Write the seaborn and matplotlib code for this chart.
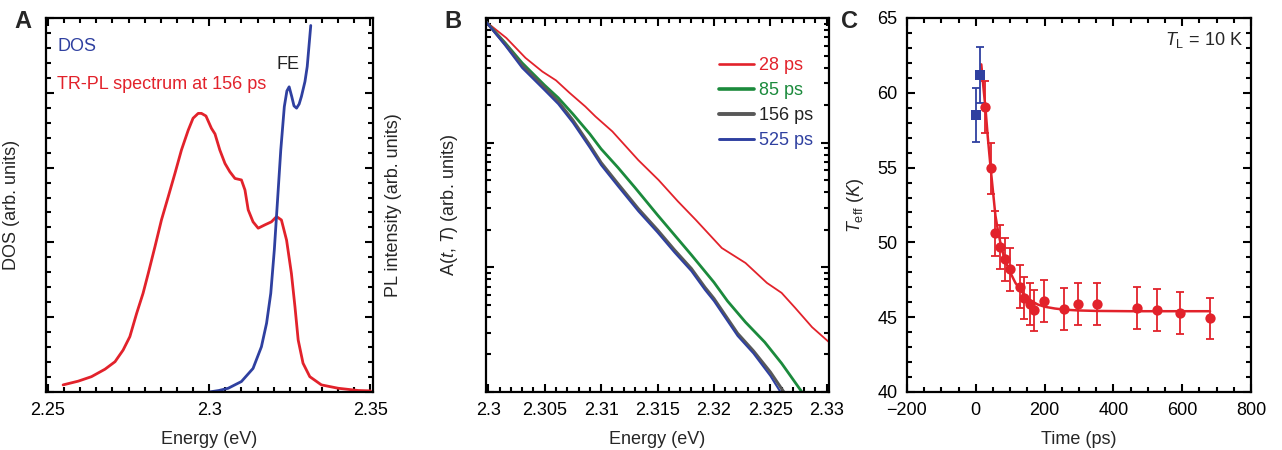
import numpy as np
import pandas as pd
import matplotlib
matplotlib.use("Agg")
import matplotlib.pyplot as plt
from matplotlib.ticker import MultipleLocator, LogLocator, NullFormatter
from matplotlib.lines import Line2D
import seaborn as sns

# ---------------- data ----------------
# Panel A: TR-PL spectrum at 156 ps and DOS
pl_energy = [2.2547, 2.2594, 2.2635, 2.2677, 2.2708, 2.2733, 2.2754, 2.2775, 2.2795,
             2.2811, 2.2832, 2.2852, 2.2873, 2.2894, 2.2914, 2.2935, 2.2950, 2.2966,
             2.2976, 2.2990, 2.3007, 2.3018, 2.3033, 2.3049, 2.3064, 2.3080, 2.3100,
             2.3111, 2.3121, 2.3136, 2.3152, 2.3173, 2.3193, 2.3209, 2.3224, 2.3240,
             2.3255, 2.3266, 2.3276, 2.3291, 2.3312, 2.3348, 2.3400, 2.3462, 2.3500]
pl_intensity = [0.019, 0.029, 0.041, 0.061, 0.081, 0.112, 0.148, 0.210, 0.264,
                0.317, 0.389, 0.460, 0.522, 0.585, 0.647, 0.700, 0.732, 0.745,
                0.745, 0.738, 0.705, 0.690, 0.647, 0.611, 0.589, 0.571, 0.567,
                0.540, 0.487, 0.455, 0.438, 0.447, 0.455, 0.469, 0.460, 0.406,
                0.317, 0.228, 0.139, 0.077, 0.041, 0.019, 0.010, 0.004, 0.003]
dos_energy = [2.3000, 2.3030, 2.3059, 2.3100, 2.3136, 2.3162, 2.3178, 2.3191, 2.3202,
              2.3212, 2.3222, 2.3233, 2.3241, 2.3248, 2.3256, 2.3263, 2.3271, 2.3279,
              2.3286, 2.3297, 2.3304, 2.3315]
dos_value = [0.000, 0.004, 0.010, 0.028, 0.063, 0.121, 0.184, 0.264, 0.380,
             0.513, 0.647, 0.763, 0.805, 0.816, 0.790, 0.765, 0.759, 0.770,
             0.790, 0.830, 0.870, 0.980]

# Panel B: A(t,T) on a log scale (log10 values)
b_energy_28 = [2.2998, 2.3016, 2.3033, 2.3048, 2.3060, 2.3072, 2.3086, 2.3095, 2.3110,
               2.3119, 2.3133, 2.3151, 2.3168, 2.3184, 2.3207, 2.3228, 2.3247, 2.3260,
               2.3272, 2.3287, 2.3302]
b_log_28 = [2.97, 2.84, 2.68, 2.57, 2.50, 2.40, 2.29, 2.21, 2.09,
            2.00, 1.86, 1.70, 1.53, 1.38, 1.155, 1.035, 0.875, 0.795,
            0.675, 0.52, 0.40]
b_energy_85 = [2.2998, 2.3015, 2.3030, 2.3050, 2.3062, 2.3075, 2.3090, 2.3100, 2.3115,
               2.3130, 2.3150, 2.3165, 2.3180, 2.3200, 2.3212, 2.3228, 2.3245, 2.3260,
               2.3278]
b_log_85 = [2.97, 2.80, 2.64, 2.46, 2.36, 2.23, 2.07, 1.95, 1.80,
            1.64, 1.42, 1.26, 1.10, 0.88, 0.73, 0.56, 0.40, 0.23, 0.0]
b_energy_156 = [2.2998, 2.3015, 2.3030, 2.3050, 2.3062, 2.3075, 2.3090, 2.3100, 2.3115,
                2.3133, 2.3150, 2.3165, 2.3180, 2.3192, 2.3200, 2.3221, 2.3235, 2.3250,
                2.3262]
b_log_156 = [2.97, 2.79, 2.62, 2.44, 2.33, 2.18, 1.98, 1.84, 1.67,
             1.47, 1.30, 1.14, 0.99, 0.84, 0.75, 0.47, 0.33, 0.16, 0.0]
b_energy_525 = [2.2998, 2.3015, 2.3030, 2.3050, 2.3062, 2.3075, 2.3090, 2.3100, 2.3115,
                2.3133, 2.3150, 2.3165, 2.3180, 2.3192, 2.3200, 2.3221, 2.3235, 2.3250,
                2.3259]
b_log_525 = [2.97, 2.78, 2.60, 2.42, 2.31, 2.16, 1.96, 1.82, 1.65,
             1.45, 1.28, 1.12, 0.97, 0.82, 0.73, 0.45, 0.31, 0.13, 0.0]
b_labels = ["28 ps", "85 ps", "156 ps", "525 ps"]

# Panel C: effective temperature
c_time_red = [28, 43, 57, 71, 85, 99, 129, 140, 157, 170, 199, 256, 297, 353, 469, 526, 594, 681]
c_temp_red = [59.05, 54.95, 50.6, 49.7, 48.87, 48.2, 47.04, 46.3, 45.9, 45.45, 46.08, 45.55,
              45.9, 45.86, 45.6, 45.5, 45.3, 44.93]
c_err_red = [1.75, 1.7, 1.5, 1.45, 1.45, 1.45, 1.45, 1.4, 1.4, 1.4, 1.4, 1.4,
             1.4, 1.4, 1.4, 1.4, 1.4, 1.38]
c_time_blue = [0, 13]
c_temp_blue = [58.5, 61.2]
c_err_blue = [1.8, 1.85]
c_fit_time = [16, 22, 28, 35, 43, 50, 57, 65, 75, 85, 100, 115, 130, 145, 160, 180,
              200, 230, 260, 300, 350, 450, 681]
c_fit_temp = [61.9, 60.4, 59.0, 57.0, 55.0, 53.4, 51.8, 50.7, 49.6, 48.8, 48.0, 47.3,
              46.8, 46.4, 46.1, 45.85, 45.7, 45.58, 45.5, 45.45, 45.42, 45.4, 45.4]

# ---------------- style ----------------
RED = "#e2222b"
BLUE = "#2f40a0"
GREEN = "#1b8a3c"
GREY = "#585858"

sns.set_theme(style="ticks")
plt.rcParams["font.family"] = ["Liberation Sans", "DejaVu Sans"]
plt.rcParams["mathtext.fontset"] = "custom"
plt.rcParams["mathtext.rm"] = "Liberation Sans"
plt.rcParams["mathtext.it"] = "Liberation Sans:italic"
plt.rcParams["font.size"] = 13
plt.rcParams["axes.linewidth"] = 1.6

fig = plt.figure(figsize=(12.82, 4.5), dpi=100)
W, H = 1282.0, 450.0
def pos(l, r, t=18, b=392):
    return [l / W, (H - b) / H, (r - l) / W, (b - t) / H]

axA = fig.add_axes(pos(46, 373))
axB = fig.add_axes(pos(486, 829))
axC = fig.add_axes(pos(907, 1251))

def style_ticks(ax):
    ax.tick_params(which="both", direction="in", top=True, right=True,
                   width=1.5, labelsize=13, colors="black", pad=7)
    ax.tick_params(which="major", length=6)
    ax.tick_params(which="minor", length=3.5)

# ---------------- Panel A ----------------
dfA1 = pd.DataFrame({"E": pl_energy, "I": pl_intensity})
dfA2 = pd.DataFrame({"E": dos_energy, "I": dos_value})
sns.lineplot(data=dfA1, x="E", y="I", ax=axA, color=RED, lw=2.0, sort=False, estimator=None)
sns.lineplot(data=dfA2, x="E", y="I", ax=axA, color=BLUE, lw=2.0, sort=False, estimator=None)
axA.set_xlim(2.2494, 2.3508)
axA.set_ylim(0, 1.0)
axA.xaxis.set_major_locator(MultipleLocator(0.05))
axA.xaxis.set_minor_locator(MultipleLocator(0.005))
axA.yaxis.set_major_locator(MultipleLocator(0.2))
axA.yaxis.set_minor_locator(MultipleLocator(0.04))
axA.set_xticks([2.25, 2.3, 2.35])
axA.set_xticklabels(["2.25", "2.3", "2.35"])
axA.set_yticklabels([])
style_ticks(axA)
axA.set_xlabel("Energy (eV)", fontsize=13, labelpad=9)
axA.set_ylabel("DOS (arb. units)", fontsize=13, labelpad=12)
axA.text(0.034, 0.923, "DOS", color=BLUE, fontsize=13, transform=axA.transAxes,
         va="center", ha="left")
axA.text(0.034, 0.821, "TR-PL spectrum at 156 ps", color=RED, fontsize=13,
         transform=axA.transAxes, va="center", ha="left")
axA.text(2.3244, 0.875, "FE", color="#222222", fontsize=13, ha="center", va="center")
fig.text(393 / W, (H - 205) / H, "PL intensity (arb. units)", rotation=90,
         fontsize=13, ha="center", va="center")

# ---------------- Panel B ----------------
series = [(b_energy_28, b_log_28, RED, 1.3), (b_energy_85, b_log_85, GREEN, 2.0),
          (b_energy_156, b_log_156, GREY, 2.2), (b_energy_525, b_log_525, BLUE, 1.5)]
handles = []
for (e, lg, c, lw), lab in zip(series, b_labels):
    df = pd.DataFrame({"E": e, "A": np.power(10.0, lg)})
    sns.lineplot(data=df, x="E", y="A", ax=axB, color=c, lw=lw, sort=False, estimator=None)
    handles.append(Line2D([], [], color=c, lw=lw + 0.6))
axB.set_yscale("log")
axB.set_xlim(2.2998, 2.3302)
axB.set_ylim(1, 1000)
axB.set_xticks([2.3, 2.305, 2.31, 2.315, 2.32, 2.325, 2.33])
axB.set_xticklabels(["2.3", "2.305", "2.31", "2.315", "2.32", "2.325", "2.33"])
axB.xaxis.set_minor_locator(MultipleLocator(0.001))
axB.yaxis.set_major_locator(LogLocator(base=10, numticks=10))
axB.yaxis.set_minor_locator(LogLocator(base=10, subs=np.arange(2, 10), numticks=10))
axB.yaxis.set_major_formatter(NullFormatter())
axB.yaxis.set_minor_formatter(NullFormatter())
style_ticks(axB)
axB.set_xlabel("Energy (eV)", fontsize=13, labelpad=9)
axB.set_ylabel(r"A($\mathit{t}$, $\mathit{T}$) (arb. units)", fontsize=13, labelpad=12)
leg = axB.legend(handles, b_labels, loc="upper right", bbox_to_anchor=(0.975, 0.915),
                 frameon=False, fontsize=13, handlelength=1.9, handletextpad=0.3,
                 labelspacing=0.45, borderaxespad=0.0)
for txt, c in zip(leg.get_texts(), [RED, GREEN, "#222222", BLUE]):
    txt.set_color(c)

# ---------------- Panel C ----------------
dfFit = pd.DataFrame({"t": c_fit_time, "T": c_fit_temp})
sns.lineplot(data=dfFit, x="t", y="T", ax=axC, color=RED, lw=1.8, sort=False,
             estimator=None, zorder=2)
axC.errorbar(c_time_red, c_temp_red, yerr=c_err_red, fmt="none", ecolor=RED,
             elinewidth=1.3, capsize=3, capthick=1.3, zorder=3)
axC.errorbar(c_time_blue, c_temp_blue, yerr=c_err_blue, fmt="none", ecolor=BLUE,
             elinewidth=1.3, capsize=3, capthick=1.3, zorder=3)
sns.scatterplot(x=c_time_red, y=c_temp_red, ax=axC, color=RED, marker="o", s=55,
                edgecolor=RED, linewidth=0, zorder=4)
sns.scatterplot(x=c_time_blue, y=c_temp_blue, ax=axC, color=BLUE, marker="s", s=55,
                edgecolor=BLUE, linewidth=0, zorder=4)
axC.set_xlim(-200, 800)
axC.set_ylim(40, 65)
axC.set_xticks([-200, 0, 200, 400, 600, 800])
axC.set_xticklabels(["\u2212200", "0", "200", "400", "600", "800"])
axC.xaxis.set_minor_locator(MultipleLocator(50))
axC.yaxis.set_major_locator(MultipleLocator(5))
axC.yaxis.set_minor_locator(MultipleLocator(1))
style_ticks(axC)
axC.set_xlabel("Time (ps)", fontsize=13, labelpad=9)
axC.set_ylabel(r"$T_{\mathrm{eff}}$ ($K$)", fontsize=13, labelpad=8)
axC.text(0.975, 0.94, r"$T_{\mathrm{L}}$ = 10 K", transform=axC.transAxes,
         ha="right", va="center", fontsize=13)

# panel letters
fig.text(14 / W, (H - 21) / H, "A", fontsize=17, fontweight="bold", va="center", ha="left")
fig.text(444 / W, (H - 21) / H, "B", fontsize=17, fontweight="bold", va="center", ha="left")
fig.text(841 / W, (H - 21) / H, "C", fontsize=17, fontweight="bold", va="center", ha="left")

for ax in (axA, axB, axC):
    for sp in ax.spines.values():
        sp.set_color("black")

fig.savefig("out.png", dpi=100)
